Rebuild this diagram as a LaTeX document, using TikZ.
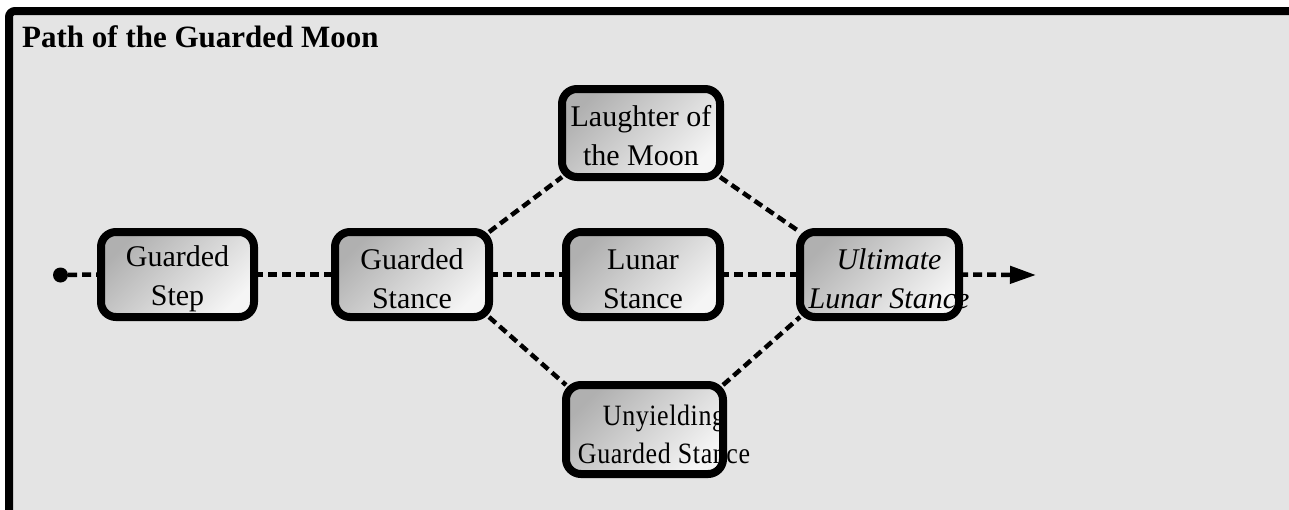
\documentclass[tikz,border=0pt]{standalone}
\usepackage{fontspec}
\setmainfont{Liberation Serif}
\newfontfamily\narrowserif[FakeStretch=0.88,LetterSpace=2]{Liberation Serif}
\usetikzlibrary{arrows.meta,calc}
\definecolor{framebg}{HTML}{E4E4E4}
\begin{document}
\begin{tikzpicture}[x=1pt,y=-1pt,
  box/.style={rectangle, rounded corners=15pt, outer sep=0pt, inner sep=0pt,
    shading=axis, top color=gray!62, bottom color=gray!8, shading angle=45},
  lbl/.style={align=center, font=\fontsize{30}{39}\selectfont, inner sep=0pt},
  border/.style={draw=black, line width=8pt, rounded corners=15pt},
  link/.style={draw=black, line width=4.5pt, dash pattern=on 9pt off 5pt}
]
\useasboundingbox (0,0) rectangle (1289,509);
\clip (0,0) rectangle (1289,509);
\draw[line width=8pt, fill=framebg, rounded corners=6pt] (9,11) rectangle (1330,560);
\node[anchor=base west, font=\fontsize{31}{36}\selectfont\bfseries, inner sep=0pt] (title) at (22,47) {Path of the Guarded Moon};

% boxes (shaded backgrounds)
\node[box, minimum width=153pt, minimum height=85pt] (gstep) at (177.5,274.5) {};
\node[box, minimum width=154pt, minimum height=85pt] (gstance) at (412,274.5) {};
\node[box, minimum width=158pt, minimum height=88pt] (laugh) at (641,133) {};
\node[box, minimum width=154pt, minimum height=85pt] (lunar) at (643,274.5) {};
\node[box, minimum width=159pt, minimum height=85pt] (ult) at (879.5,274.5) {};
\node[box, minimum width=157pt, minimum height=89pt] (unyield) at (644.5,429.5) {};

\node[circle, fill=black, inner sep=0pt, minimum size=15pt] (start) at (60.5,275) {};
\coordinate (end) at (1036,275);

% connectors
\draw[link] (start) -- (gstep.west);
\draw[link] (gstep.east) -- (gstance.west);
\draw[link] (gstance.east) -- (lunar.west);
\draw[link] (lunar.east) -- (ult.west);
\draw[link, -{Triangle[length=26pt, width=17pt]}] (ult.east) -- (end);
\draw[link] (gstance.north east) -- (laugh.south west);
\draw[link] (laugh.south east) -- (ult.north west);
\draw[link] (gstance.south east) -- (unyield.north west);
\draw[link] (unyield.north east) -- (ult.south west);

% labels
\node[lbl] (tgstep) at (177.5,279) {Guarded\\Step};
\node[lbl] (tgstance) at (412,279) {Guarded\\Stance};
\node[lbl] (tlaugh) at (641,136) {Laughter of\\the Moon};
\node[lbl] (tlunar) at (643,279) {Lunar\\Stance};
\node[lbl, font=\fontsize{30}{39}\selectfont\itshape] (tult) at (889,279) {Ultimate\\Lunar Stance};
\node[lbl, font=\fontsize{29.5}{38}\narrowserif] (tunyield) at (664,434) {Unyielding\\Guarded Stance};

% borders on top
\foreach \n in {gstep,gstance,laugh,lunar,ult,unyield}
  \draw[border] (\n.south west) rectangle (\n.north east);
\end{tikzpicture}
\end{document}
